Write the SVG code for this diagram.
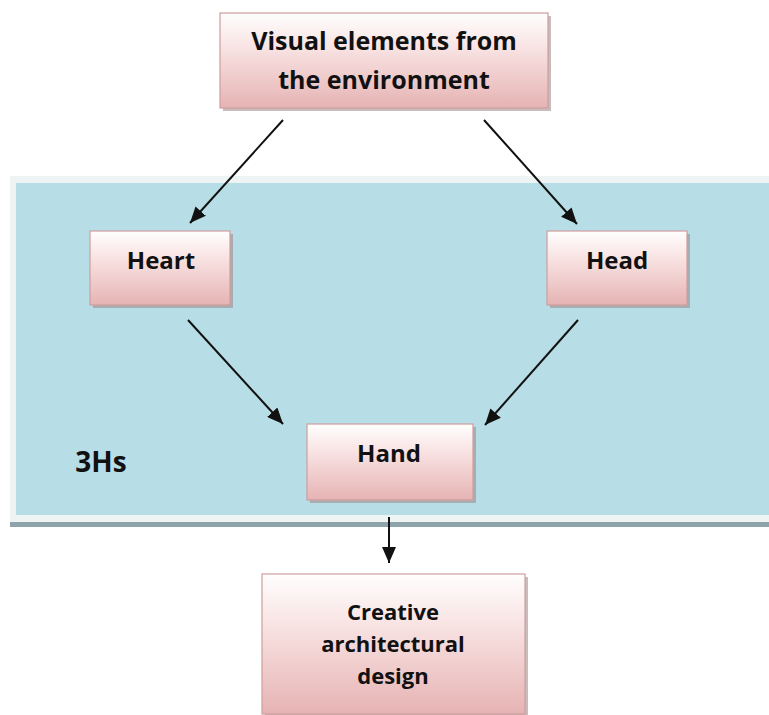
<svg xmlns="http://www.w3.org/2000/svg" width="769" height="715" viewBox="0 0 769 715">
  <defs>
    <linearGradient id="pink" x1="0" y1="0" x2="0" y2="1">
      <stop offset="0" stop-color="#fffefe"/>
      <stop offset="0.35" stop-color="#f9e4e4"/>
      <stop offset="1" stop-color="#e6b3b3"/>
    </linearGradient>
    <marker id="arr" viewBox="0 0 10 10" refX="10" refY="5" markerWidth="8" markerHeight="7" markerUnits="userSpaceOnUse" orient="auto" overflow="visible">
      <path d="M0,0 L10,5 L0,10 z" fill="#111"/>
    </marker>
    <marker id="ah" viewBox="0 0 16 14" refX="16" refY="7" markerWidth="16" markerHeight="14" markerUnits="userSpaceOnUse" orient="auto">
      <path d="M0,0 L16,7 L0,14 z" fill="#111"/>
    </marker>
  </defs>
  <style>
    .box { fill: url(#pink); stroke: #cf9d9d; stroke-width: 1.2; }
    .shadow { fill: #9a8686; opacity: 0.55; }
    .lbl { font-family: "Open Sans", "Liberation Sans", sans-serif; font-weight: bold; fill: #111; text-anchor: middle; }
    .conn { stroke: #111; stroke-width: 2; fill: none; marker-end: url(#ah); }
  </style>
  <rect width="769" height="715" fill="#ffffff"/>

  <g id="panel-3Hs">
    <rect x="10" y="176" width="770" height="346" fill="#eef3f3"/>
    <rect x="16" y="183" width="770" height="332" fill="#b7dde7"/>
    <rect x="10" y="522" width="770" height="5" fill="#8fa3aa"/>
    <text class="lbl" x="101" y="472" font-size="28">3Hs</text>
  </g>

  <g id="node-visual">
    <rect class="shadow" x="223" y="16" width="328" height="95"/>
    <rect class="box" x="220" y="13" width="328" height="95"/>
    <text class="lbl" x="384" y="50" font-size="25">Visual elements from</text>
    <text class="lbl" x="384" y="89" font-size="25">the environment</text>
  </g>

  <g id="node-heart">
    <rect class="shadow" x="93" y="234" width="140" height="74"/>
    <rect class="box" x="90" y="231" width="140" height="74"/>
    <text class="lbl" x="161" y="269" font-size="24">Heart</text>
  </g>

  <g id="node-head">
    <rect class="shadow" x="550" y="234" width="140" height="74"/>
    <rect class="box" x="547" y="231" width="140" height="74"/>
    <text class="lbl" x="617" y="269" font-size="24">Head</text>
  </g>

  <g id="node-hand">
    <rect class="shadow" x="310" y="427" width="166" height="76"/>
    <rect class="box" x="307" y="424" width="166" height="76"/>
    <text class="lbl" x="389" y="462" font-size="24">Hand</text>
  </g>

  <g id="node-creative">
    <rect class="shadow" x="265" y="577" width="263" height="140"/>
    <rect class="box" x="262" y="574" width="263" height="140"/>
    <text class="lbl" x="393" y="620" font-size="22">Creative</text>
    <text class="lbl" x="393" y="652" font-size="22">architectural</text>
    <text class="lbl" x="393" y="684" font-size="22">design</text>
  </g>

  <g id="connectors">
    <line class="conn" x1="283" y1="120" x2="190" y2="223"/>
    <line class="conn" x1="484" y1="120" x2="577" y2="224"/>
    <line class="conn" x1="188" y1="320" x2="283" y2="424"/>
    <line class="conn" x1="578" y1="320" x2="485" y2="425"/>
    <line class="conn" x1="389" y1="517" x2="389" y2="563"/>
  </g>
</svg>
